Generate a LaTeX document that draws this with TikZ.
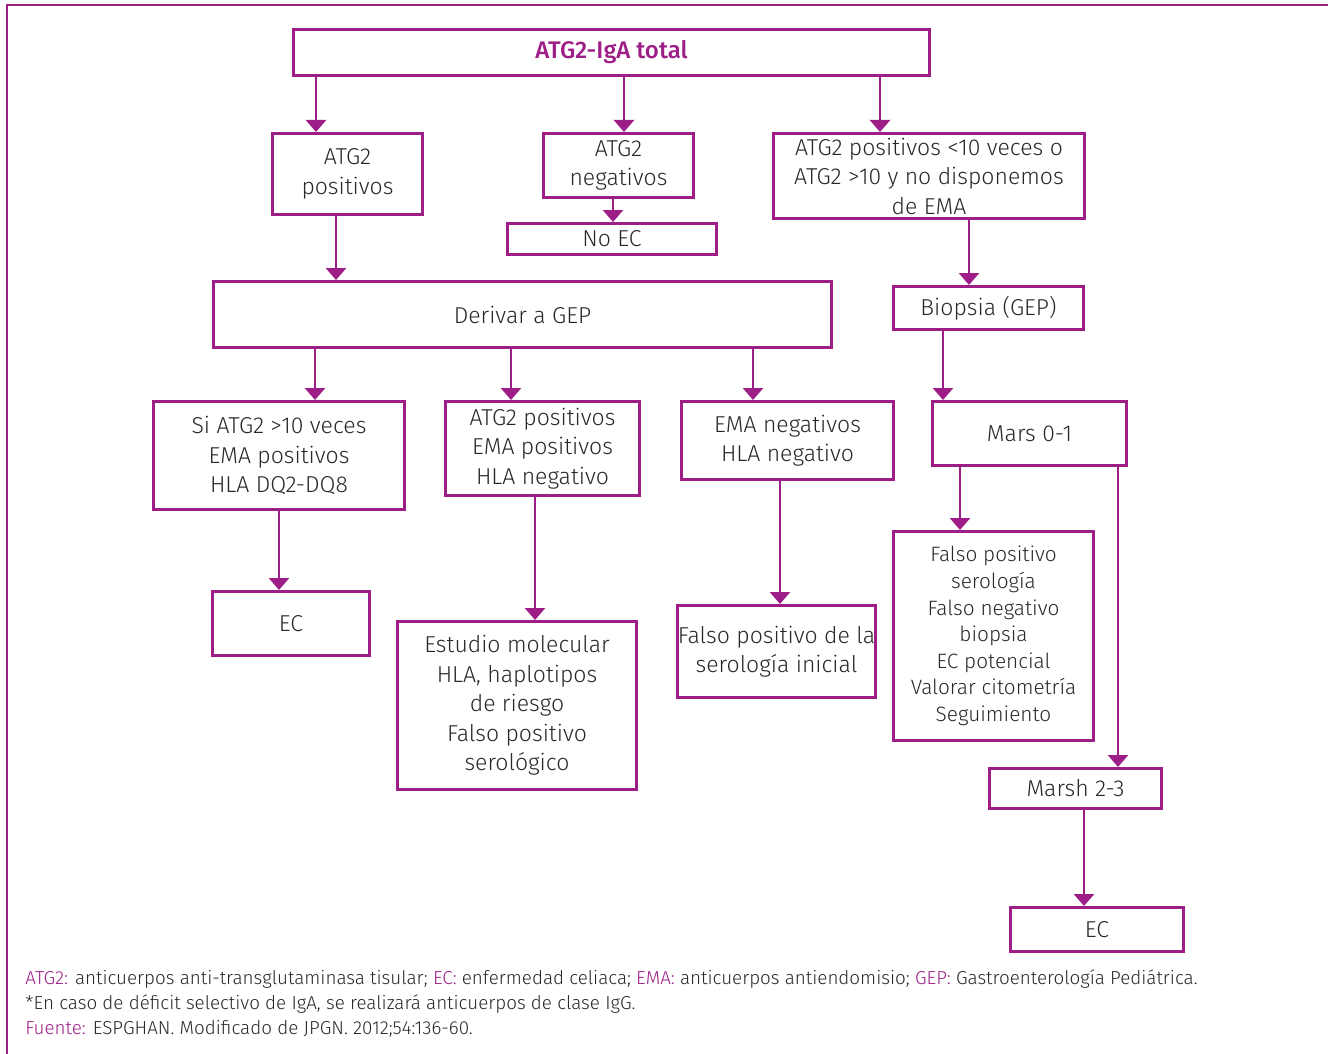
\documentclass[tikz,border=0pt]{standalone}
\usepackage{fontspec}
\setmainfont{Fira Sans}[UprightFont=* Light, BoldFont=* Medium]
\usetikzlibrary{arrows.meta}
\definecolor{aepurple}{RGB}{158,30,135}
\definecolor{aetext}{RGB}{40,40,40}
\tikzset{
  box/.style={draw=aepurple, line width=1.5pt, inner sep=0pt, align=center,
    text=aetext, font=\fontsize{11.5}{14.75}\selectfont},
  arr/.style={draw=aepurple, line width=1.4pt, -{Triangle[width=10pt,length=6pt]}},
  note/.style={anchor=west, inner sep=0pt, text=aetext, font=\fontsize{9.4}{12}\selectfont}
}
\newcommand{\abbr}[1]{\textcolor{aepurple}{#1}}

\begin{document}
\begin{tikzpicture}[x=0.5pt, y=-0.5pt]
    \useasboundingbox (0,0) rectangle (1328,1054);
    % open frame
    \draw[aepurple, line width=1pt] (7,1054) -- (7,5) -- (1328,5);

    % first level
    \node[box, minimum width=318pt, minimum height=23pt, text=aepurple,
          font=\fontsize{12}{15}\bfseries] (total) at (611.5,52.5) {ATG2-IgA total};
    \node[box, minimum width=75pt, minimum height=40.5pt] (atgpos) at (347.5,174) {ATG2\\positivos};
    \node[box, minimum width=75pt, minimum height=32pt] (atgneg) at (618.5,165.5) {ATG2\\negativos};
    \node[box, minimum width=104.5pt, minimum height=15.5pt] (noec) at (612,239) {No EC};
    \node[box, minimum width=155.5pt, minimum height=42.5pt] (atgdud) at (929,176)
        {ATG2 positivos <10 veces o\\ATG2 >10 y no disponemos\\de EMA};

    % second level
    \node[box, minimum width=309pt, minimum height=33pt] (derivar) at (522.5,314.5) {Derivar a GEP};
    \node[box, minimum width=95pt, minimum height=21.5pt] (biopsia) at (988.5,308) {Biopsia (GEP)};

    % third level
    \node[box, minimum width=125.5pt, minimum height=54pt] (siatg) at (279,455.5)
        {Si ATG2 >10 veces\\EMA positivos\\HLA DQ2-DQ8};
    \node[box, minimum width=97pt, minimum height=47pt] (emapos) at (542.5,448.5)
        {ATG2 positivos\\EMA positivos\\HLA negativo};
    \node[box, minimum width=106pt, minimum height=39pt] (emaneg) at (787.5,440.5)
        {EMA negativos\\HLA negativo};
    \node[box, minimum width=97pt, minimum height=32pt] (mars) at (1029.5,433.5) {Mars 0-1};

    % results
    \node[box, minimum width=78.5pt, minimum height=32pt] (ecA) at (291,623.5) {EC};
    \node[box, minimum width=119.5pt, minimum height=84pt] (molec) at (517,705.5)
        {Estudio molecular\\HLA, haplotipos\\de riesgo\\Falso positivo\\serológico};
    \node[box, minimum width=97pt, minimum height=46pt] (falsoini) at (776.5,651.5)
        {Falso positivo de la\\serología inicial};
    \node[box, minimum width=100pt, minimum height=104.5pt,
          font=\fontsize{10.4}{13.3}\selectfont] (falsolist) at (993.5,636)
        {Falso positivo\\serología\\Falso negativo\\biopsia\\EC potencial\\Valorar citometría\\Seguimiento};
    \node[box, minimum width=86pt, minimum height=20pt] (marsh) at (1075.5,788.5) {Marsh 2-3};
    \node[box, minimum width=86.5pt, minimum height=22pt] (ecB) at (1097,929.5) {EC};

    % connectors
    \foreach \from/\to/\xpos in {total/atgpos/316, total/atgneg/624, total/atgdud/880,
        atgpos/derivar/336, atgneg/noec/613, atgdud/biopsia/969,
        derivar/siatg/315, derivar/emapos/511, derivar/emaneg/753, biopsia/mars/943,
        siatg/ecA/279, emapos/molec/535, emaneg/falsoini/780,
        mars/falsolist/960, mars/marsh/1118, marsh/ecB/1084}
      \draw[arr] (\from.south -| \xpos,0) -- (\to.north -| \xpos,0);

    % footnotes
    \node[note] (abbrev) at (25,979) {\abbr{ATG2:} anticuerpos anti-transglutaminasa tisular; \abbr{EC:} enfermedad celiaca; \abbr{EMA:} anticuerpos antiendomisio; \abbr{GEP:} Gastroenterología Pediátrica.};
    \node[note] (igg) at (25,1004) {*En caso de déficit selectivo de IgA, se realizará anticuerpos de clase IgG.};
    \node[note] (source) at (25,1029) {\abbr{Fuente:} ESPGHAN. Modificado de JPGN. 2012;54:136-60.};
\end{tikzpicture}
\end{document}
